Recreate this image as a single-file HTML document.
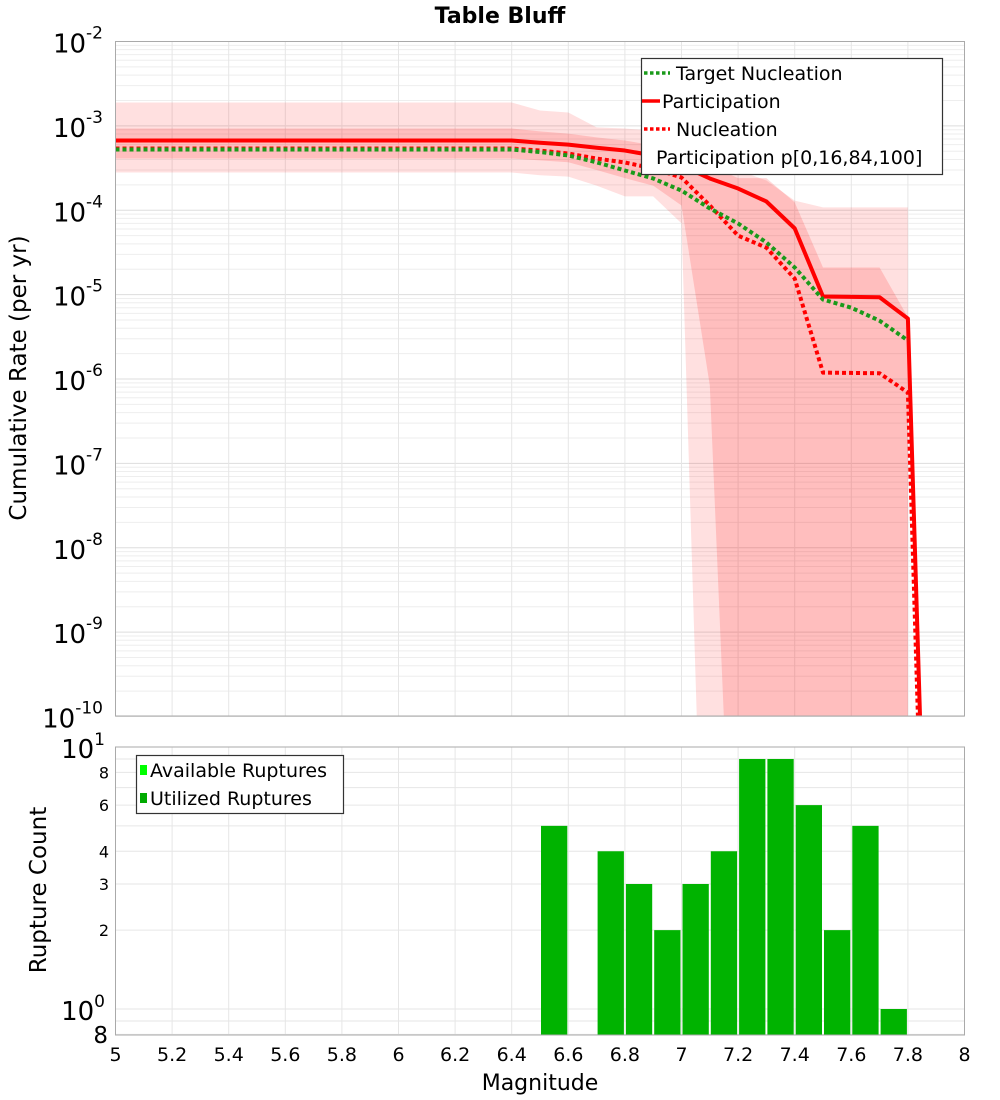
<!DOCTYPE html>
<html><head><meta charset="utf-8"><style>
html,body{margin:0;padding:0;background:#fff;width:1000px;height:1100px;overflow:hidden;}
svg{display:block;font-family:"DejaVu Sans","Liberation Sans",sans-serif;}
</style></head><body>
<svg id="chart" width="1000" height="1100" xmlns="http://www.w3.org/2000/svg">
<defs>
<clipPath id="clipTop"><rect x="115.5" y="41.5" width="849" height="674.5"/></clipPath>
<clipPath id="clipBot"><rect x="115.5" y="747" width="849" height="288"/></clipPath>
</defs>
<text x="500" y="23" text-anchor="middle" font-size="22" font-weight="bold">Table Bluff</text>
<g id="topGrid"></g>
<g id="bands" clip-path="url(#clipTop)"></g>
<g id="lines" clip-path="url(#clipTop)"></g>
<rect x="115.5" y="41.5" width="849" height="674.5" fill="none" stroke="#aaa" stroke-width="1"/>
<g id="topTicks"></g>
<text transform="translate(26,378) rotate(-90)" text-anchor="middle" font-size="23">Cumulative Rate (per yr)</text>
<g>
<rect x="641.5" y="58.5" width="301" height="116" fill="#fff" stroke="#333" stroke-width="1.2"/>
<line x1="644" y1="73" x2="670" y2="73" stroke="#1a9a1a" stroke-width="3.5" stroke-dasharray="3.5,2.5"/>
<text x="676" y="80" font-size="19">Target Nucleation</text>
<line x1="642" y1="101" x2="660" y2="101" stroke="#f00" stroke-width="3.5"/>
<text x="662" y="108" font-size="19">Participation</text>
<line x1="644" y1="129" x2="670" y2="129" stroke="#f00" stroke-width="3.5" stroke-dasharray="3.5,2.5"/>
<text x="676" y="136" font-size="19">Nucleation</text>
<text x="656" y="164" font-size="19">Participation p[0,16,84,100]</text>
</g>
<g id="botGrid"></g>
<g id="bars" clip-path="url(#clipBot)"></g>
<rect x="115.5" y="747" width="849" height="288" fill="none" stroke="#aaa" stroke-width="1"/>
<g id="botTicks"></g>
<g id="xTicks"></g>
<text transform="translate(46,890) rotate(-90)" text-anchor="middle" font-size="23">Rupture Count</text>
<text x="540" y="1090" text-anchor="middle" font-size="22">Magnitude</text>
<g>
<rect x="136.5" y="755.5" width="207" height="58" fill="#fff" stroke="#333" stroke-width="1.2"/>
<rect x="140" y="765" width="7" height="10" fill="#00ff00"/>
<text x="150" y="777" font-size="19">Available Ruptures</text>
<rect x="140" y="793" width="7" height="10" fill="#00aa00"/>
<text x="150" y="805" font-size="19">Utilized Ruptures</text>
</g>
</svg>
<script>
const mags = [5.0,6.4,6.5,6.6,6.7,6.8,6.9,7.0,7.1,7.2,7.3,7.4,7.5,7.6,7.7,7.8,7.9];
const participation = [6.7e-4,6.7e-4,6.3e-4,6.0e-4,5.5e-4,5.1e-4,4.46e-4,3.39e-4,2.38e-4,1.81e-4,1.27e-4,6.1e-5,9.5e-6,9.4e-6,9.3e-6,5.2e-6,5e-17];
const targetNucleation = [5.25e-4,5.25e-4,4.9e-4,4.46e-4,3.7e-4,2.96e-4,2.38e-4,1.71e-4,1.05e-4,6.97e-5,4.15e-5,2.1e-5,8.75e-6,7.0e-6,4.9e-6,2.86e-6,null];
const nucleation = [5.4e-4,5.4e-4,5.1e-4,4.7e-4,4.1e-4,3.68e-4,3.13e-4,2.44e-4,1.14e-4,5.0e-5,3.6e-5,1.55e-5,1.19e-6,1.18e-6,1.17e-6,6.9e-7,1e-17];
const bandMags = [5.0,6.4,6.5,6.6,6.7,6.8,6.9,7.0,7.1,7.2,7.3,7.4,7.5,7.6,7.7,7.8];
const p100 = [1.89e-3,1.89e-3,1.52e-3,1.44e-3,9.6e-4,9.3e-4,8.8e-4,6.7e-4,3.9e-4,3.0e-4,2.25e-4,1.3e-4,1.08e-4,1.08e-4,1.08e-4,1.08e-4];
const p0 = [2.8e-4,2.8e-4,2.6e-4,2.5e-4,1.96e-4,1.46e-4,1.46e-4,7.0e-5,1e-15,1e-15,1e-15,1e-15,1e-15,1e-15,1e-15,1e-15];
const p84 = [9.3e-4,9.3e-4,8.6e-4,8.1e-4,7.3e-4,6.7e-4,5.9e-4,5.1e-4,3.4e-4,2.4e-4,2.4e-4,1.24e-4,2.1e-5,2.1e-5,2.1e-5,5.4e-6];
const p16 = [4.1e-4,4.1e-4,3.9e-4,3.7e-4,3.0e-4,2.4e-4,1.96e-4,1.14e-4,8.4e-7,1e-14,1e-14,1e-14,1e-14,1e-14,1e-14,1e-14];
const barMags = [6.5,6.7,6.8,6.9,7.0,7.1,7.2,7.3,7.4,7.5,7.6,7.7];
const barCounts = [5,4,3,2,3,4,9,9,6,2,5,1];
const xTickLabels = ["5","5.2","5.4","5.6","5.8","6","6.2","6.4","6.6","6.8","7","7.2","7.4","7.6","7.8","8"];
const topExps = [-2,-3,-4,-5,-6,-7,-8,-9,-10];
const botMinorTicks = [8,6,4,3,2];

const NS="http://www.w3.org/2000/svg";
const X0=115.5,X1=964.5;
const xs = m => X0 + (m-5)/3*(X1-X0);
const yTop = v => 41.5 + (-2 - Math.log10(v)) * 84.375;
const yBot = v => 1009 - Math.log10(v) * 262;
function mk(tag, attrs, parent){const e=document.createElementNS(NS,tag);for(const k in attrs)e.setAttribute(k,attrs[k]);parent.appendChild(e);return e;}
const g=id=>document.getElementById(id);

for(let e=-10;e<-2;e++){for(let k=1;k<10;k++){const y=yTop(k*Math.pow(10,e));
 const l=mk('line',{x1:X0,x2:X1,y1:y,y2:y,stroke:k===1?'#ddd':'#eee','stroke-width':1},g('topGrid'));
 
 }}
for(let i=1;i<15;i++){const x=xs(5+i*0.2);
 const l=mk('line',{x1:x,x2:x,y1:41.5,y2:716,stroke:'#e6e6e6','stroke-width':1},g('topGrid'));
 
 
 const l2=mk('line',{x1:x,x2:x,y1:747,y2:1035,stroke:'#e6e6e6','stroke-width':1},g('botGrid'));
 
 }
[1,2,3,4,5,6,7,8,9,0.9,0.8].forEach(v=>{const y=yBot(v);
 const l=mk('line',{x1:X0,x2:X1,y1:y,y2:y,stroke:'#e6e6e6','stroke-width':1},g('botGrid'));
 
 });

function band(up,lo,fill,name){
 let d='M'+bandMags.map((m,i)=>xs(m)+','+yTop(up[i])).join(' L');
 for(let i=bandMags.length-1;i>=0;i--) d+=' L'+xs(bandMags[i])+','+yTop(lo[i]);
 const p=mk('path',{d:d+'Z',fill:fill},g('bands'));
 
 }
band(p100,p0,'rgba(255,0,0,0.12)','band-p0-p100');
band(p84,p16,'rgba(255,0,0,0.15)','band-p16-p84');

function line(vals,color,dash,name){
 const pts=[];vals.forEach((v,i)=>{if(v!=null)pts.push(xs(mags[i])+','+yTop(v));});
 const attrs={points:pts.join(' '),fill:'none',stroke:color,'stroke-width':4,'stroke-linejoin':'round'};
 if(dash)attrs['stroke-dasharray']=dash;
 const p=mk('polyline',attrs,g('lines'));
 
 }
line(participation,'#ff0000',null,'participation-line');
line(nucleation,'#ff0000','4,3','nucleation-line');
line(targetNucleation,'#1a9a1a','4,3','target-nucleation-line');

topExps.forEach(e=>{const y=yTop(Math.pow(10,e));
 const t=mk('text',{x:103,y:y+11,'text-anchor':'end','font-size':26},g('topTicks'));
 
 
 t.textContent='10';
 const s=mk('tspan',{dy:-14,'font-size':17},t);s.textContent=String(e);});

barMags.forEach((m,i)=>{const x0=xs(m)+1,x1=xs(m+0.1)-1,y=yBot(barCounts[i]);
 const r=mk('rect',{x:x0,y:y,width:x1-x0,height:1035-y,fill:'#00b300'},g('bars'));
 
 });

[[10,'10','1'],[1,'10','0']].forEach(([v,b,sup])=>{const y=yBot(v);
 const t=mk('text',{x:105,y:y+11,'text-anchor':'end','font-size':26},g('botTicks'));
 
 
 t.textContent=b;const s=mk('tspan',{dy:-13,'font-size':17},t);s.textContent=sup;});
botMinorTicks.forEach(v=>{const y=yBot(v);
 const t=mk('text',{x:109,y:y+6,'text-anchor':'end','font-size':16},g('botTicks'));
 
 
 t.textContent=String(v);});
{const t=mk('text',{x:108,y:1043,'text-anchor':'end','font-size':23},g('botTicks'));
 
 
 t.textContent='8';}

xTickLabels.forEach((s,i)=>{const t=mk('text',{x:xs(5+i*0.2),y:1061,'text-anchor':'middle','font-size':19},g('xTicks'));
 
 
 t.textContent=s;});
</script>
</body></html>
